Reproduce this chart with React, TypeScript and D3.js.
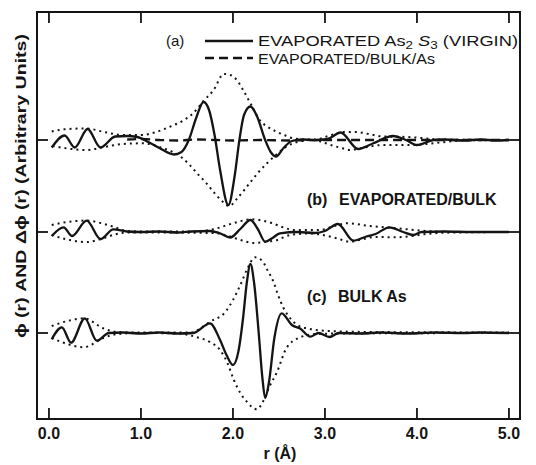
import React from "react";
import * as d3 from "d3";

type P = [number, number];

// x ticks
const X_TICKS = [0, 1, 2, 3, 4, 5];
const X_TICK_LABELS = ["0.0", "1.0", "2.0", "3.0", "4.0", "5.0"];

// vertical offsets of the three panels (arbitrary units)
const OFFSETS = { a: 19.3, b: 10.1, c: 0 };

// (a) evaporated As2S3 (virgin) – solid
const aSolid: P[] = [
  [0.03, -0.75], [0.17, 0.45], [0.28, -0.75], [0.42, 1.1], [0.56, -0.75], [0.72, 0.35],
  [0.85, 0.4], [0.96, 0.3], [1.08, -0.2], [1.2, -0.8], [1.36, -1.45], [1.44, -1.2],
  [1.52, 0], [1.6, 2.2], [1.68, 3.8], [1.74, 3.0], [1.8, 0.5], [1.86, -3.0], [1.95, -6.5],
  [2.02, -3.5], [2.07, 0], [2.12, 2.5], [2.19, 3.35], [2.26, 2.4], [2.35, 0], [2.41, -1.2],
  [2.47, -1.65], [2.55, -0.8], [2.64, -0.1], [2.75, 0.05], [2.9, 0], [3.03, 0.1],
  [3.17, 0.75], [3.36, -0.9], [3.52, -0.35], [3.74, 0.4], [3.88, 0.0], [4.0, -0.5],
  [4.18, 0], [4.3, 0.05], [4.5, -0.05], [4.7, 0.05], [4.85, -0.05], [5.0, 0],
];
// (a) evaporated/bulk/As – dashed
const aDashed: P[] = [
  [0.85, 0.05], [1.0, 0.1], [1.2, 0.0], [1.4, -0.05], [1.6, 0.05], [1.8, 0.0],
  [2.0, -0.05], [2.3, 0.0], [2.6, -0.05], [3.0, 0], [3.5, 0], [4.0, 0], [5.0, 0],
];
const aUpper: P[] = [
  [0.03, 0.85], [0.2, 1.1], [0.41, 1.15], [0.6, 0.8], [0.8, 0.5], [1.0, 0.5], [1.15, 0.75],
  [1.32, 1.35], [1.45, 1.9], [1.57, 2.7], [1.68, 3.9], [1.79, 5.0], [1.9, 6.6], [1.97, 6.5],
  [2.05, 5.9], [2.11, 5.0], [2.2, 3.5], [2.29, 2.0], [2.38, 1.3], [2.47, 0.85], [2.57, 0.45],
  [2.66, 0.15], [2.8, 0.05], [2.91, 0.05], [3.0, 0.3], [3.09, 0.55], [3.2, 0.8], [3.34, 0.8],
  [3.5, 0.55], [3.63, 0.35], [3.89, 0.3], [4.05, 0.2], [4.25, 0.05], [5.0, 0],
];
const aLower: P[] = [
  [0.04, -0.6], [0.2, -0.85], [0.41, -1.0], [0.6, -0.7], [0.8, -0.4], [1.03, -0.33],
  [1.2, -0.7], [1.43, -1.67], [1.52, -2.4], [1.61, -3.33], [1.7, -4.2], [1.79, -5.2],
  [1.88, -6.1], [1.96, -6.6], [2.05, -5.8], [2.18, -4.33], [2.27, -3.3], [2.37, -2.33],
  [2.48, -1.4], [2.58, -0.67], [2.7, -0.2], [2.87, 0], [3.0, -0.3], [3.1, -0.6],
  [3.2, -0.85], [3.27, -1.0], [3.4, -0.8], [3.63, -0.5], [3.96, -0.5], [4.1, -0.4],
  [4.25, -0.25], [4.5, -0.05], [5.0, 0],
];

// (b) evaporated/bulk
const bSolid: P[] = [
  [0.03, -0.4], [0.16, 0.47], [0.25, -0.4], [0.41, 1.13], [0.56, -0.7], [0.7, 0.27],
  [0.85, 0.05], [1.0, 0.0], [1.2, 0.05], [1.4, -0.05], [1.55, 0.05], [1.75, 0.1],
  [1.85, -0.1], [1.97, -0.55], [2.08, 0.3], [2.19, 1.2], [2.27, 0.3], [2.35, -0.97],
  [2.43, -0.6], [2.51, -0.13], [2.7, 0.0], [2.89, -0.1], [3.0, 0.1], [3.14, 0.8],
  [3.31, -0.87], [3.45, -0.45], [3.55, -0.2], [3.7, 0.47], [3.85, 0.0], [3.96, -0.3],
  [4.05, 0], [4.3, 0.05], [4.6, 0], [5.0, 0],
];
const bUpper: P[] = [
  [0.03, 0.7], [0.2, 1.0], [0.41, 1.15], [0.6, 0.8], [0.7, 0.53], [0.85, 0.1], [1.0, 0.05],
  [1.6, 0.05], [1.8, 0.3], [2.0, 0.87], [2.2, 1.27], [2.42, 0.9], [2.55, 0.45], [2.66, 0.2],
  [2.95, 0.2], [3.1, 0.6], [3.24, 0.87], [3.49, 0.6], [3.78, 0.37], [4.1, 0.1], [4.4, 0.0],
  [5.0, 0],
];
const bLower: P[] = [
  [0.03, -0.3], [0.2, -0.75], [0.41, -1.0], [0.6, -0.6], [0.72, -0.23], [0.85, -0.05],
  [1.8, -0.1], [1.95, -0.4], [2.1, -0.85], [2.22, -1.1], [2.35, -1.0], [2.48, -0.8],
  [2.62, -0.3], [2.85, -0.15], [3.0, -0.35], [3.13, -0.63], [3.27, -0.97], [3.4, -0.75],
  [3.53, -0.5], [3.78, -0.53], [3.95, -0.4], [4.1, -0.2], [4.4, -0.05], [5.0, 0],
];

// (c) bulk As
const cSolid: P[] = [
  [0.03, -0.63], [0.14, 0.57], [0.24, -0.97], [0.39, 1.47], [0.52, -0.77], [0.65, 0.0],
  [0.8, 0.05], [1.0, -0.05], [1.2, 0.05], [1.4, -0.05], [1.57, 0.0], [1.75, 0.97],
  [1.86, -0.7], [1.93, -2.2], [2.0, -3.2], [2.06, -1.8], [2.11, 1.5], [2.15, 5.0],
  [2.19, 6.9], [2.23, 5.0], [2.28, 0], [2.32, -4.5], [2.35, -6.5], [2.39, -5.0],
  [2.45, -0.5], [2.53, 1.97], [2.64, 0.8], [2.73, 0.45], [2.84, -0.37], [2.93, 0.0],
  [3.05, -0.4], [3.15, 0.0], [3.4, -0.05], [3.6, 0.05], [3.9, -0.05], [4.2, 0.05],
  [4.5, 0.0], [4.7, 0.05], [5.0, 0],
];
const cUpper: P[] = [
  [0.03, 0.7], [0.2, 1.2], [0.38, 1.47], [0.59, 0.47], [0.74, 0.1], [1.0, 0.05],
  [1.55, 0.05], [1.65, 0.5], [1.75, 1.13], [1.92, 2.13], [2.0, 3.3], [2.08, 4.8],
  [2.16, 6.5], [2.24, 7.57], [2.32, 7.2], [2.38, 6.2], [2.44, 5.13], [2.49, 3.8],
  [2.55, 2.5], [2.62, 1.5], [2.7, 0.8], [2.8, 0.47], [3.05, 0.2], [3.5, 0.1], [5.0, 0.05],
];
const cLower: P[] = [
  [0.03, -0.5], [0.2, -1.1], [0.38, -1.43], [0.59, -0.5], [0.75, -0.1], [1.0, 0],
  [1.4, -0.05], [1.61, -0.43], [1.75, -0.9], [1.86, -1.7], [1.94, -3.0], [2.01, -4.7],
  [2.08, -6.0], [2.15, -6.87], [2.26, -7.63], [2.33, -6.8], [2.4, -5.3], [2.48, -3.87],
  [2.58, -1.53], [2.73, -0.43], [2.9, -0.1], [3.2, -0.05], [5.0, 0],
];

const W = 536;
const H = 465;
const INK = "#141414";
const FONT = "'Liberation Sans', Arial, Helvetica, sans-serif";

export default function App() {
  const x = d3.scaleLinear().domain([-0.13, 5.12]).range([37, 520]);
  const y = d3.scaleLinear().domain([-8.6, 32.1]).range([419, 12]);
  const [x0, x1] = x.range();
  const [yb, yt] = y.range();

  const mk = (off: number) =>
    d3
      .line<P>()
      .x((d) => x(d[0]))
      .y((d) => y(d[1] + off))
      .curve(d3.curveMonotoneX);

  const la = mk(OFFSETS.a);
  const lb = mk(OFFSETS.b);
  const lc = mk(OFFSETS.c);

  const solid = { fill: "none", stroke: INK, strokeWidth: 2.3, strokeLinejoin: "round" as const };
  const dotted = {
    fill: "none",
    stroke: INK,
    strokeWidth: 2,
    strokeDasharray: "2 4",
  };
  const dashed = { fill: "none", stroke: INK, strokeWidth: 2.3, strokeDasharray: "9 5" };

  const tickLen = 11;

  return (
    <svg
      width={W}
      height={H}
      style={{ position: "absolute", left: 0, top: 0, background: "#fff" }}
      fontFamily={FONT}
    >
      <rect width={W} height={H} fill="#fff" />
      {/* frame */}
      <rect x={x0} y={yt} width={x1 - x0} height={yb - yt} fill="none" stroke={INK} strokeWidth={2} />
      {/* x ticks */}
      {X_TICKS.map((t, i) => (
        <g key={t}>
          <line x1={x(t)} x2={x(t)} y1={yb} y2={yb - tickLen} stroke={INK} strokeWidth={1.8} />
          <line x1={x(t)} x2={x(t)} y1={yt} y2={yt + tickLen} stroke={INK} strokeWidth={1.8} />
          <text x={x(t)} y={439} textAnchor="middle" fontSize={16} fontWeight="bold" fill={INK}>
            {X_TICK_LABELS[i]}
          </text>
        </g>
      ))}
      {/* baseline ticks */}
      {[OFFSETS.a, OFFSETS.b, OFFSETS.c].map((o) => (
        <g key={o}>
          <line x1={x0} x2={x0 + tickLen} y1={y(o)} y2={y(o)} stroke={INK} strokeWidth={1.8} />
          <line x1={x1 - tickLen} x2={x1} y1={y(o)} y2={y(o)} stroke={INK} strokeWidth={1.8} />
        </g>
      ))}

      {/* envelopes */}
      <path d={la(aUpper) || ""} {...dotted} />
      <path d={la(aLower) || ""} {...dotted} />
      <path d={lb(bUpper) || ""} {...dotted} />
      <path d={lb(bLower) || ""} {...dotted} />
      <path d={lc(cUpper) || ""} {...dotted} />
      <path d={lc(cLower) || ""} {...dotted} />

      {/* curves */}
      <path d={la(aDashed) || ""} {...dashed} />
      <path d={la(aSolid) || ""} {...solid} />
      <path d={lb(bSolid) || ""} {...solid} />
      <path d={lc(cSolid) || ""} {...solid} />

      {/* legend */}
      <text x={166} y={46} fontSize={15} fill={INK}>(a)</text>
      <line x1={205} x2={253} y1={41} y2={41} stroke={INK} strokeWidth={2.3} />
      <line x1={205} x2={253} y1={58} y2={58} stroke={INK} strokeWidth={2.3} strokeDasharray="9 5" />
      <text x={258} y={46} fontSize={15} fill={INK} textLength={260} lengthAdjust="spacingAndGlyphs">
        EVAPORATED As
        <tspan fontSize={11} dy={3}>2</tspan>
        <tspan dy={-3} fontStyle="italic"> S</tspan>
        <tspan fontSize={11} dy={3}>3</tspan>
        <tspan dy={-3}>  (VIRGIN)</tspan>
      </text>
      <text x={258} y={64} fontSize={15} fill={INK} textLength={177} lengthAdjust="spacingAndGlyphs">
        EVAPORATED/BULK/As
      </text>

      <text x={307} y={205} fontSize={16} fontWeight="bold" fill={INK}>
        (b)
      </text>
      <text x={339} y={205} fontSize={16} fontWeight="bold" fill={INK}>
        EVAPORATED/BULK
      </text>
      <text x={307} y={302} fontSize={16} fontWeight="bold" fill={INK}>
        (c)
      </text>
      <text x={338} y={302} fontSize={16} fontWeight="bold" fill={INK}>
        BULK As
      </text>

      {/* axis labels */}
      <text x={280} y={459} textAnchor="middle" fontSize={16} fontWeight="bold" fill={INK}>
        r (Å)
      </text>
      <text
        transform={`translate(26, 186) rotate(-90)`}
        textAnchor="middle"
        fontSize={15}
        fontWeight="bold"
        fill={INK}
        textLength={304}
        lengthAdjust="spacingAndGlyphs"
      >
        ϕ (r) AND Δϕ (r) (Arbitrary Units)
      </text>
    </svg>
  );
}
